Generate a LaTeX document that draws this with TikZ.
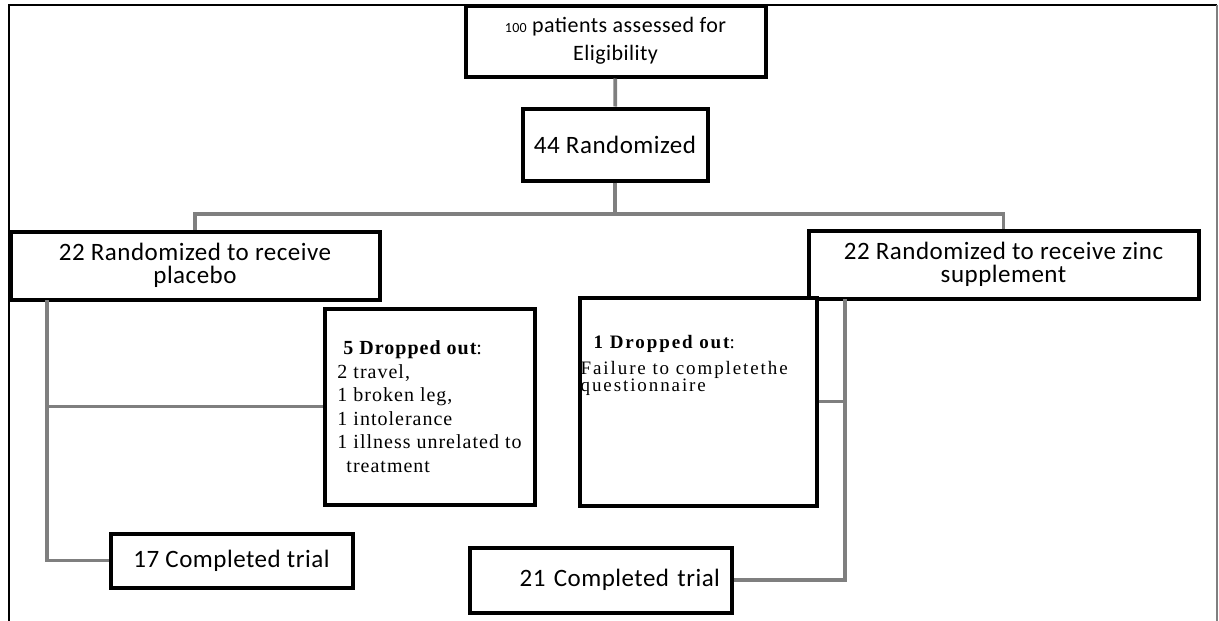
\documentclass[tikz,border=0pt]{standalone}
\usepackage{fontspec}
\setmainfont{Carlito}[LetterSpace=2]
\newfontfamily\dropfont{Liberation Serif}[LetterSpace=5]
\newfontfamily\failfont{Liberation Serif}[LetterSpace=10]
\usepackage{tikz}
\definecolor{linkgray}{RGB}{127,127,127}
\tikzset{
  box/.style={draw,line width=4pt,fill=white,inner sep=0pt,align=center},
  link/.style={draw=linkgray,line width=3.8pt},
}

\begin{document}
\begin{tikzpicture}[x=1pt,y=-1pt]
  \useasboundingbox (0,0) rectangle (1219,621);
  \draw[line width=2.5pt] (9,621) -- (9,5) -- (1217,5);
  \draw[linkgray,line width=1.5pt] (1217,5) -- (1217,621);
  \node (elig) at (615.5,41) [box,minimum width=300pt,minimum height=71pt,
    font=\fontsize{22}{28}\selectfont]
    {{\fontsize{14}{14}\selectfont 100} patients assessed for\\Eligibility};
  \node (rand) at (615,144.5) [box,minimum width=185pt,minimum height=72pt,
    font=\fontsize{25}{23}\selectfont] {44 Randomized};
  \node (plac) at (195,265.5) [box,minimum width=369pt,minimum height=68pt,
    font=\fontsize{25}{23}\selectfont] {22 Randomized to receive\\placebo};
  \node (zinc) at (1003.5,264.5) [box,minimum width=390pt,minimum height=68pt,
    font=\fontsize{25}{23}\selectfont] {22 Randomized to receive zinc\\supplement};
  \node (drop5) at (429.5,406.5) [box,minimum width=210pt,minimum height=196pt,
    align=left,font=\dropfont\fontsize{20}{23.5}\selectfont]
    {\hspace*{6pt}{\bfseries 5 Dropped out}:\\2 travel,\\1 broken leg,\\1 intolerance\\
     1 illness unrelated to\\\hspace*{9pt}treatment};
  \node (drop1) at (698,401.5) [box,minimum width=237pt,minimum height=208pt] {};
  \node (drop1txt) at ([xshift=3pt,yshift=-40pt]drop1.north west) [anchor=north west,
    align=left,inner sep=0pt,font=\failfont\fontsize{19}{17}\selectfont]
    {\hspace*{13pt}{\bfseries 1 Dropped out}:\\[7pt]Failure to completethe\\questionnaire};
  \node (done17) at (231.5,560.5) [box,minimum width=242pt,minimum height=54pt,
    font=\fontsize{25}{23}\selectfont] {17 Completed trial};
  \node (done21) at (600.5,580) [box,minimum width=262pt,minimum height=65pt,
    text width=239pt,align=right,font=\fontsize{25}{23}\selectfont] {21 Completed trial};
  \coordinate (split) at (615,214);
  \coordinate (trunkL) at (47,300);
  \coordinate (trunkR) at (845,299);
  \draw[link] (elig) -- (rand);
  \draw[link] (rand) -- (split);
  \draw[link] (plac) |- (split) -| (zinc);
  \draw[link] (trunkL) |- (done17);
  \draw[link] (drop5) -- (drop5 -| trunkL);
  \draw[link] (trunkR) |- (done21);
  \draw[link] (drop1) -- (drop1 -| trunkR);
\end{tikzpicture}
\end{document}
